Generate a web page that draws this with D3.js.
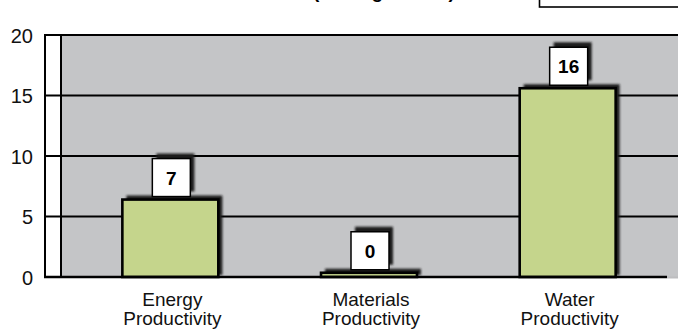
<!DOCTYPE html>
<html><head><meta charset="utf-8">
<script src="https://cdn.jsdelivr.net/npm/d3@7"></script>
<style>body{margin:0;background:#fff;} svg{display:block;font-family:"Liberation Sans",Arial,sans-serif;}</style>
</head><body><svg id="c" width="678" height="329"></svg>
<script>
const categories = [["Energy","Productivity"],["Materials","Productivity"],["Water","Productivity"]];
const values = [6.4, 0.35, 15.6];
const valueLabels = ["7","0","16"];
const yTicks = [0,5,10,15,20];
const titleText = "(Average Value)";

const W = 678, H = 329;
const svg = d3.select("#c");
const defs = svg.append("defs");
defs.append("filter").attr("id","blur").attr("x","-30%").attr("y","-30%").attr("width","160%").attr("height","160%")
  .append("feGaussianBlur").attr("stdDeviation",1.3);

const y = d3.scaleLinear().domain([0,20]).range([277,35]);
const x = d3.scaleBand().domain(d3.range(categories.length)).range([71,667]).paddingInner(0.517).paddingOuter(0.2585);
const bw = x.bandwidth();
const sideL = 45, wallL = 61, floorR = 667;

// title (clipped at the top, as in the reference) and box at top right
svg.append("text").attr("x",313).attr("y",-2.5).attr("font-size",19).attr("font-weight","bold").attr("fill","#000").text(titleText);
svg.append("rect").attr("x",539.5).attr("y",-30).attr("width",200).attr("height",37).attr("fill","#fff").attr("stroke","#000").attr("stroke-width",1.6);

// back wall
svg.append("rect").attr("x",wallL).attr("y",y(20)).attr("width",W-wallL+5).attr("height",y(0)-y(20)).attr("fill","#c4c5c7");
// side wall
svg.append("rect").attr("x",sideL).attr("y",y(20)).attr("width",wallL-sideL).attr("height",y(0)-y(20)).attr("fill","#fff");
svg.append("line").attr("x1",sideL).attr("x2",sideL).attr("y1",y(20)-1).attr("y2",y(0)+1).attr("stroke","#000").attr("stroke-width",2);
svg.append("line").attr("x1",wallL).attr("x2",wallL).attr("y1",y(20)-1).attr("y2",y(0)+1).attr("stroke","#000").attr("stroke-width",2);

// gridlines
svg.selectAll("line.grid").data(yTicks.filter(t => t > 0)).join("line").attr("class","grid")
  .attr("x1",sideL).attr("x2",W+2).attr("y1",d => y(d)).attr("y2",d => y(d))
  .attr("stroke","#000").attr("stroke-width",2);
// floor
svg.append("line").attr("x1",floorR).attr("x2",W+2).attr("y1",y(0)+0.5).attr("y2",y(0)+0.5).attr("stroke","#bdbdbf").attr("stroke-width",2);

// y tick labels
svg.selectAll("text.ytick").data(yTicks).join("text").attr("class","ytick")
  .attr("x",33).attr("y",d => y(d)+7.5).attr("text-anchor","end").attr("font-size",20).attr("fill","#111").text(d => d);

const idx = d3.range(values.length);
// bar shadows
svg.selectAll("rect.bshadow").data(idx).join("rect").attr("class","bshadow")
  .attr("x",i => x(i)+4).attr("y",i => y(values[i])-4).attr("width",bw)
  .attr("height",i => Math.max(0, y(0)-y(values[i])+4-2))
  .attr("fill","#1e1e1e").attr("filter","url(#blur)");
// bars
svg.selectAll("rect.bar").data(idx).join("rect").attr("class","bar")
  .attr("x",i => x(i)).attr("y",i => y(values[i])).attr("width",bw).attr("height",i => y(0)-y(values[i]))
  .attr("fill","#c5d58c").attr("stroke","#000").attr("stroke-width",2.6);
svg.append("line").attr("x1",sideL-1).attr("x2",floorR).attr("y1",y(0)).attr("y2",y(0)).attr("stroke","#000").attr("stroke-width",2.4);

// value label boxes
const boxW = 38, boxH = 38;
const bx = i => x(i) + bw/2 - boxW/2 + 1;
const by = i => y(values[i]) - 3 - boxH;
svg.selectAll("rect.lshadow").data(idx).join("rect").attr("class","lshadow")
  .attr("x",i => bx(i)+4).attr("y",i => by(i)-5).attr("width",boxW).attr("height",boxH)
  .attr("fill","#1e1e1e").attr("filter","url(#blur)");
svg.selectAll("rect.lbox").data(idx).join("rect").attr("class","lbox")
  .attr("x",bx).attr("y",by).attr("width",boxW).attr("height",boxH)
  .attr("fill","#fff").attr("stroke","#000").attr("stroke-width",1.5);
svg.selectAll("text.vlab").data(idx).join("text").attr("class","vlab")
  .attr("x",i => bx(i)+boxW/2).attr("y",i => by(i)+boxH/2+7)
  .attr("text-anchor","middle").attr("font-size",19).attr("font-weight","bold").attr("fill","#000")
  .text(i => valueLabels[i]);

// category labels
const cl = svg.selectAll("text.cat").data(idx).join("text").attr("class","cat")
  .attr("text-anchor","middle").attr("font-size",19).attr("fill","#111");
cl.selectAll("tspan").data(i => categories[i].map(s => ({s, i}))).join("tspan")
  .attr("x",d => x(d.i)+bw/2+2).attr("y",(d,k) => 306 + k*19).text(d => d.s);
</script></body></html>
